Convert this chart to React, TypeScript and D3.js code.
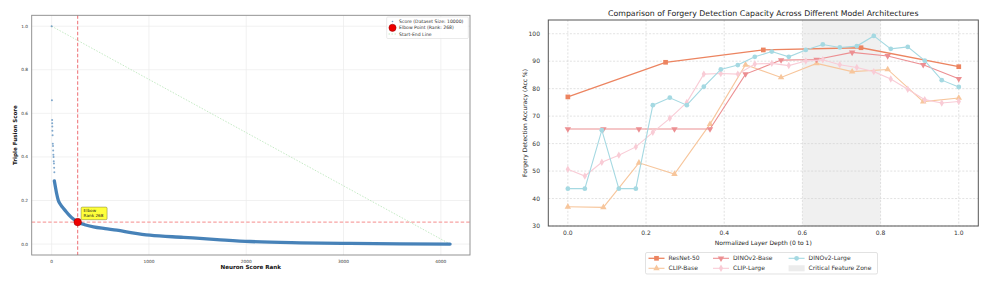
import * as d3 from "d3";

// ---- left panel: elbow plot of neuron scores ----
const topRanks = [0, 3, 5, 6, 7, 8, 10, 12, 14, 16, 18, 20, 22, 24, 26, 28];
const topScores = [1.0, 0.66, 0.57, 0.555, 0.54, 0.52, 0.5, 0.46, 0.45, 0.43, 0.41, 0.4, 0.38, 0.37, 0.35, 0.33];
const curveRanks = [28, 40, 52, 69, 86, 110, 138, 180, 220, 268, 340, 430, 550, 670, 830, 1010, 1355, 1700, 2040, 2555, 3066, 3580, 4095];
const curveScores = [0.29, 0.26, 0.231, 0.2, 0.185, 0.17, 0.155, 0.133, 0.116, 0.101, 0.089, 0.079, 0.071, 0.064, 0.052, 0.041, 0.031, 0.021, 0.012, 0.006, 0.003, 0.001, 0.0];
const elbowRank = 268;
const elbowScore = 0.101;
const lastRank = 4095;
const leftXTicks = [0, 1000, 2000, 3000, 4000];
const leftYTicks = [0, 0.2, 0.4, 0.6, 0.8, 1.0];

// ---- right panel: accuracy vs layer depth ----
const resnetDepth = [0, 0.25, 0.5, 0.75, 1.0];
const resnetAcc = [77.0, 89.6, 94.1, 94.9, 88.0];
const clipBaseAcc = [37.0, 36.8, 53.0, 48.9, 67.1, 88.7, 84.1, 89.2, 86.2, 87.0, 75.3, 76.6];
const dinoBaseAcc = [65.3, 65.3, 65.3, 65.3, 65.3, 85.3, 90.4, 90.6, 93.2, 91.9, 88.7, 83.6];
const clipLargeAcc = [50.7, 48.2, 53.2, 55.8, 58.8, 64.1, 69.2, 75.0, 85.3, 85.5, 85.3, 89.0, 89.2, 88.4, 90.1, 90.5, 88.7, 87.7, 86.2, 83.5, 79.8, 76.0, 74.8, 75.3];
const dinoLargeAcc = [43.6, 43.6, 64.9, 43.6, 43.6, 74.0, 76.7, 74.0, 80.7, 87.0, 88.6, 91.6, 93.5, 91.6, 94.1, 96.1, 95.0, 95.5, 99.2, 94.5, 95.2, 90.2, 83.1, 80.6];
const zone = [0.6, 0.8];
const rightXTicks = [0, 0.2, 0.4, 0.6, 0.8, 1.0];
const rightYTicks = [30, 40, 50, 60, 70, 80, 90, 100];

const depths = (n: number) => d3.range(n).map(i => i / (n - 1));

const series = [
  { name: "ResNet-50", x: resnetDepth, y: resnetAcc, color: "#ec8460", symbol: d3.symbolSquare, size: 22, width: 1.3 },
  { name: "CLIP-Base", x: depths(clipBaseAcc.length), y: clipBaseAcc, color: "#f7c69c", symbol: d3.symbolTriangle, size: 18, width: 1.1 },
  { name: "DINOv2-Base", x: depths(dinoBaseAcc.length), y: dinoBaseAcc, color: "#ec8f92", symbol: d3.symbolTriangle, size: 18, width: 1.1, flip: true },
  { name: "CLIP-Large", x: depths(clipLargeAcc.length), y: clipLargeAcc, color: "#f9ccd6", symbol: d3.symbolDiamond, size: 16, width: 1.1 },
  { name: "DINOv2-Large", x: depths(dinoLargeAcc.length), y: dinoLargeAcc, color: "#a5d9e2", symbol: d3.symbolCircle, size: 18, width: 1.1 },
];

const FONT = "DejaVu Sans, sans-serif";

function LeftPanel() {
  const x = d3.scaleLinear().domain([-lastRank * 0.05, lastRank * 1.05]).range([31.7, 470]);
  const y = d3.scaleLinear().domain([-0.05, 1.05]).range([255, 15.3]);
  const line = d3.line<number>()
    .x((_d, i) => x(curveRanks[i]))
    .y(d => y(d))
    .curve(d3.curveMonotoneX);
  const blue = "#3d7bb4";
  return (
    <g fontFamily={FONT}>
      {leftXTicks.map(t => (
        <g key={"lx" + t}>
          <line x1={x(t)} x2={x(t)} y1={15.3} y2={255} stroke="#ebebeb" strokeWidth={0.7} />
          <text x={x(t)} y={263} fontSize={4.3} textAnchor="middle" fill="#333">{t}</text>
        </g>
      ))}
      {leftYTicks.map(t => (
        <g key={"ly" + t}>
          <line x1={31.7} x2={470} y1={y(t)} y2={y(t)} stroke="#ebebeb" strokeWidth={0.7} />
          <text x={28} y={y(t)} dy="0.35em" fontSize={4.3} textAnchor="end" fill="#333">{t.toFixed(1)}</text>
        </g>
      ))}
      <line x1={x(0)} y1={y(1.0)} x2={x(lastRank)} y2={y(0)} stroke="#9ddc9d" strokeWidth={0.6} strokeDasharray="1.5,1.5" />
      <line x1={x(elbowRank)} x2={x(elbowRank)} y1={15.3} y2={255} stroke="#e8484e" strokeWidth={0.8} strokeDasharray="3.5,2" />
      <line x1={31.7} x2={470} y1={y(elbowScore)} y2={y(elbowScore)} stroke="#f7a3a3" strokeWidth={1.4} strokeDasharray="3.5,2" />
      <path d={line(curveScores) ?? ""} fill="none" stroke={blue} strokeWidth={3.3} strokeLinecap="round" opacity={0.95} />
      {topRanks.map((r, i) => (
        <circle key={"tp" + i} cx={x(r)} cy={y(topScores[i])} r={1} fill={blue} opacity={0.65} />
      ))}
      <circle cx={x(elbowRank)} cy={y(elbowScore)} r={3.8} fill="#ee0000" stroke="#8b0000" strokeWidth={0.5} />
      <g transform={`translate(${x(elbowRank) + 3.4},${y(elbowScore) - 15})`}>
        <rect x={0} y={0} width={26} height={12.6} rx={1.2} fill="#ffff3a" stroke="#7a7a3a" strokeWidth={0.5} />
        <text x={2.5} y={5} fontSize={4.2} fill="#222">Elbow</text>
        <text x={2.5} y={10.2} fontSize={4.2} fill="#222">Rank 268</text>
      </g>
      <rect x={31.7} y={15.3} width={438.3} height={239.7} fill="none" stroke="#888" strokeWidth={0.9} />
      <text x={250.8} y={268.5} fontSize={5.6} fontWeight="bold" textAnchor="middle" fill="#111">Neuron Score Rank</text>
      <text transform="translate(16.5,135) rotate(-90)" fontSize={5.6} fontWeight="bold" textAnchor="middle" fill="#111">Triple Fusion Score</text>
      <g>
        <rect x={386.7} y={17} width={81.6} height={21.5} rx={1} fill="#fff" fillOpacity={0.85} stroke="#dcdcdc" strokeWidth={0.6} />
        <circle cx={392.5} cy={21.5} r={0.8} fill={blue} opacity={0.7} />
        <text x={399} y={21.5} dy="0.35em" fontSize={4.6} fill="#333">Score (Dataset Size: 10000)</text>
        <circle cx={392.5} cy={27.8} r={3.6} fill="#ee0000" stroke="#8b0000" strokeWidth={0.5} />
        <text x={399} y={27.8} dy="0.35em" fontSize={4.6} fill="#333">Elbow Point (Rank: 268)</text>
        <line x1={388.5} x2={396} y1={34} y2={34} stroke="#9ddc9d" strokeWidth={0.6} strokeDasharray="1.5,1.5" />
        <text x={399} y={34} dy="0.35em" fontSize={4.6} fill="#333">Start-End Line</text>
      </g>
    </g>
  );
}

function RightPanel() {
  const left = 548.3, right = 978.3, top = 20, bottom = 226;
  const x = d3.scaleLinear().domain([-0.05, 1.05]).range([left, right]);
  const y = d3.scaleLinear().domain([30, 105]).range([bottom, top]);
  const legendItems = [
    { s: series[0], cx: 656.5, cy: 258.3 },
    { s: series[1], cx: 656.5, cy: 268.3 },
    { s: series[2], cx: 721, cy: 258.3 },
    { s: series[3], cx: 721, cy: 268.3 },
    { s: series[4], cx: 796.6, cy: 258.3 },
  ];
  return (
    <g fontFamily={FONT}>
      <rect x={x(zone[0])} y={top} width={x(zone[1]) - x(zone[0])} height={bottom - top} fill="#d9d9d9" opacity={0.4} />
      {rightXTicks.map(t => (
        <g key={"rx" + t}>
          <line x1={x(t)} x2={x(t)} y1={top} y2={bottom} stroke="#cfcfcf" strokeWidth={0.6} strokeDasharray="2,1.6" />
          <text x={x(t)} y={235} fontSize={6} textAnchor="middle" fill="#333">{t.toFixed(1)}</text>
        </g>
      ))}
      {rightYTicks.map(t => (
        <g key={"ry" + t}>
          <line x1={left} x2={right} y1={y(t)} y2={y(t)} stroke="#cfcfcf" strokeWidth={0.6} strokeDasharray="2,1.6" />
          <text x={540} y={y(t)} dy="0.35em" fontSize={6} textAnchor="end" fill="#333">{t}</text>
        </g>
      ))}
      {series.map(s => {
        const line = d3.line<number>().x((_d, i) => x(s.x[i])).y(d => y(d));
        const sym = d3.symbol().type(s.symbol).size(s.size)() ?? "";
        return (
          <g key={s.name}>
            <path d={line(s.y) ?? ""} fill="none" stroke={s.color} strokeWidth={s.width} />
            {s.y.map((v, i) => (
              <path key={i} d={sym} fill={s.color}
                transform={`translate(${x(s.x[i])},${y(v)})${s.flip ? " rotate(180)" : ""}`} />
            ))}
          </g>
        );
      })}
      <rect x={left} y={top} width={right - left} height={bottom - top} fill="none" stroke="#555" strokeWidth={1} />
      <text x={(left + right) / 2} y={15.5} fontSize={7.8} textAnchor="middle" fill="#222">
        Comparison of Forgery Detection Capacity Across Different Model Architectures
      </text>
      <text x={(left + right) / 2} y={245} fontSize={6} textAnchor="middle" fill="#222">Normalized Layer Depth (0 to 1)</text>
      <text transform={`translate(527,${(top + bottom) / 2}) rotate(-90)`} fontSize={6} textAnchor="middle" fill="#222">
        Forgery Detection Accuracy (Acc %)
      </text>
      <rect x={645.5} y={252.5} width={232} height={21.5} rx={1.5} fill="#fff" stroke="#d6d6d6" strokeWidth={0.7} />
      {legendItems.map(({ s, cx, cy }) => {
        const sym = d3.symbol().type(s.symbol).size(s.size)() ?? "";
        return (
          <g key={"lg" + s.name}>
            <line x1={cx - 8} x2={cx + 8} y1={cy} y2={cy} stroke={s.color} strokeWidth={s.width} />
            <path d={sym} fill={s.color} transform={`translate(${cx},${cy})${s.flip ? " rotate(180)" : ""}`} />
            <text x={cx + 12} y={cy} dy="0.35em" fontSize={6} fill="#333">{s.name}</text>
          </g>
        );
      })}
      <rect x={788.6} y={265.3} width={16} height={6} fill="#d9d9d9" opacity={0.5} />
      <text x={808.6} y={268.3} dy="0.35em" fontSize={6} fill="#333">Critical Feature Zone</text>
    </g>
  );
}

export default function App() {
  return (
    <svg width={997} height={285} style={{ position: "absolute", left: 0, top: 0, background: "#fff" }}>
      <LeftPanel />
      <RightPanel />
    </svg>
  );
}
